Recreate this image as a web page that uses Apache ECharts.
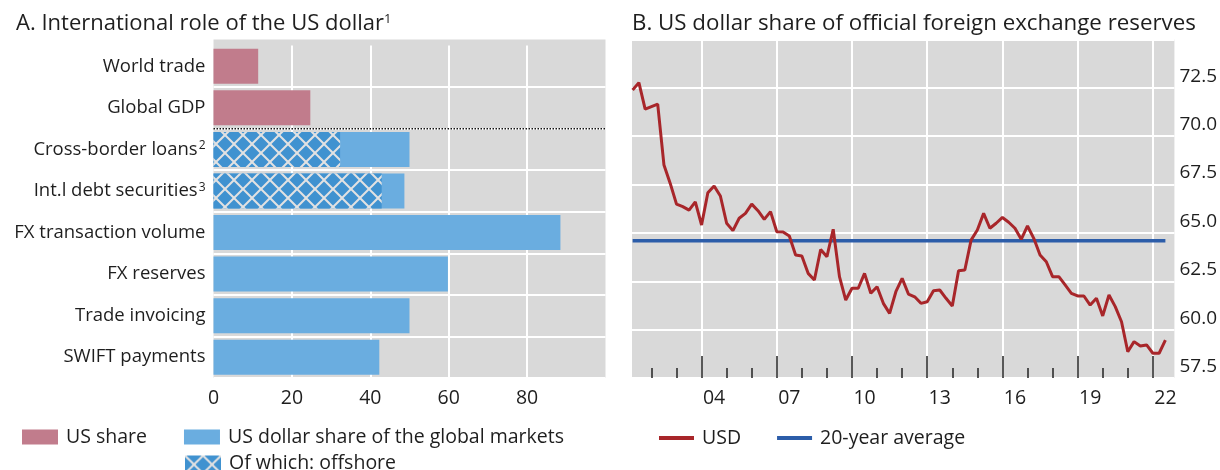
<!DOCTYPE html>
<html>
<head>
<meta charset="utf-8">
<script src="https://cdn.jsdelivr.net/npm/echarts@6.0.0/dist/echarts.min.js"></script>
<style>
  html, body { margin: 0; padding: 0; background: #fff; }
  #chart { width: 1220px; height: 470px; }
</style>
</head>
<body>
<div id="chart"></div>
<script>
// Panel A: international role of the US dollar, in per cent
const categories = ['World trade', 'Global GDP', 'Cross-border loans', 'Int.l debt securities',
  'FX transaction volume', 'FX reserves', 'Trade invoicing', 'SWIFT payments'];
const categoryNotes = { 'Cross-border loans': '2', 'Int.l debt securities': '3' };
const usShare = [11.4, 24.7, null, null, null, null, null, null];
const usdMarketShare = [null, null, 50.0, 48.7, 88.5, 59.8, 50.0, 42.3];
const offshoreShare = [null, null, 32.3, 42.9, null, null, null, null];

// Panel B: USD share of official FX reserves, quarterly from 2001 Q1 (plotted at quarter end)
const reserveStart = 2001.25;
const usdReserveShare = [
  72.39, 72.77, 71.40, 71.53, 71.66, 68.51, 67.56, 66.49, 66.36, 66.18,
  66.61, 65.41, 67.08, 67.43, 66.91, 65.50, 65.12, 65.76, 66.01, 66.49,
  66.15, 65.70, 66.10, 65.06, 65.05, 64.84, 63.86, 63.81, 62.91, 62.57,
  64.14, 63.77, 65.19, 62.74, 61.53, 62.14, 62.14, 62.91, 61.88, 62.22,
  61.36, 60.84, 61.96, 62.65, 61.84, 61.70, 61.36, 61.44, 62.01, 62.05,
  61.62, 61.22, 63.05, 63.08, 64.63, 65.15, 66.01, 65.24, 65.50, 65.80,
  65.55, 65.24, 64.67, 65.36, 64.72, 63.86, 63.51, 62.74, 62.74, 62.31,
  61.88, 61.74, 61.74, 61.27, 61.62, 60.71, 61.79, 61.19, 60.41, 58.86,
  59.38, 59.15, 59.21, 58.78, 58.78, 59.46
];
const twentyYearAverage = 64.6;
const majorTickYears = [2004, 2007, 2010, 2013, 2016, 2019, 2022];
const minorTickYears = [2002, 2003, 2005, 2006, 2008, 2009, 2011, 2012, 2014, 2015,
  2017, 2018, 2020, 2021];

const FONT = 'Open Sans';
const TEXT = '#1e1e1e';
const GREY = '#D9D9D9';

// cross-hatch fill used for the "offshore" part of the bars
function makeHatch() {
  const size = 18;
  const c = document.createElement('canvas');
  c.width = size;
  c.height = size;
  const ctx = c.getContext('2d');
  ctx.fillStyle = '#4092D0';
  ctx.fillRect(0, 0, size, size);
  ctx.strokeStyle = '#E2E2E2';
  ctx.lineWidth = 2;
  for (const k of [-size, 0, size]) {
    ctx.beginPath(); ctx.moveTo(k, 0); ctx.lineTo(k + size, size); ctx.stroke();
    ctx.beginPath(); ctx.moveTo(k + size, 0); ctx.lineTo(k, size); ctx.stroke();
  }
  return c;
}
const hatch = { image: makeHatch(), repeat: 'repeat' };

const yearOf = (i) => reserveStart + i * 0.25;
const usdLine = usdReserveShare.map((v, i) => [yearOf(i), v]);
const avgLine = [[yearOf(0), twentyYearAverage], [yearOf(usdReserveShare.length - 1), twentyYearAverage]];

const chart = echarts.init(document.getElementById('chart'), null, { renderer: 'canvas' });

const legendText = { fontFamily: FONT, fontSize: 19.5, color: TEXT, padding: [0, 0, 0, 3] };

chart.setOption({
  animation: false,
  textStyle: { fontFamily: FONT, color: TEXT },
  title: [
    {
      text: 'A. International role of the US dollar{sup|1}',
      left: 11, top: 8,
      textStyle: {
        fontFamily: FONT, fontSize: 22, fontWeight: 'normal', color: TEXT,
        rich: { sup: { fontFamily: FONT, fontSize: 13, color: TEXT, verticalAlign: 'top' } }
      }
    },
    {
      text: 'B. US dollar share of official foreign exchange reserves',
      left: 627, top: 8,
      textStyle: { fontFamily: FONT, fontSize: 22.3, fontWeight: 'normal', color: TEXT }
    }
  ],
  legend: [
    {
      left: 17, top: 422, itemWidth: 36, itemHeight: 15, itemGap: 37, icon: 'rect',
      textStyle: legendText,
      data: ['US share', 'US dollar share of the global markets'],
      selectedMode: false
    },
    {
      left: 180, top: 448, itemWidth: 36, itemHeight: 15, icon: 'rect',
      textStyle: legendText,
      data: ['Of which: offshore'],
      selectedMode: false
    },
    {
      left: 654, top: 423, itemWidth: 35, itemHeight: 4, itemGap: 36, icon: 'rect',
      textStyle: legendText,
      data: ['USD', '20-year average'],
      selectedMode: false
    }
  ],
  grid: [
    // panel A grey backdrop (slightly taller than the category band)
    { left: 213.5, top: 39.5, width: 392, height: 338.5, show: true, backgroundColor: GREY, borderWidth: 0 },
    { left: 213.5, top: 45.5, width: 392, height: 332.5 },
    { left: 632, top: 39.5, width: 548, height: 338.5, show: true, backgroundColor: GREY, borderWidth: 0 }
  ],
  xAxis: [
    {
      gridIndex: 1, type: 'value', min: 0, max: 100, interval: 20,
      axisLine: { show: false }, axisTick: { show: false },
      axisLabel: { fontFamily: FONT, fontSize: 19.5, color: TEXT, margin: 10, showMaxLabel: false },
      splitLine: { show: true, showMinLine: false, showMaxLine: false, lineStyle: { color: '#fff', width: 2 } }
    },
    {
      gridIndex: 2, type: 'value', position: 'bottom', min: 2001.225, max: 2022.86,
      axisLine: { show: false },
      axisTick: { show: true, inside: true, length: 22, customValues: majorTickYears,
        lineStyle: { color: '#222', width: 1.5 } },
      axisLabel: { fontFamily: FONT, fontSize: 19.5, color: TEXT, margin: 10,
        customValues: majorTickYears.map((y) => y + 0.5),
        formatter: (v) => String(Math.floor(v)).slice(2) },
      splitLine: { show: true, lineStyle: { color: '#fff', width: 2 } }
    },
    {
      gridIndex: 2, type: 'value', position: 'bottom', offset: 0, min: 2001.225, max: 2022.86,
      axisLine: { show: false },
      axisTick: { show: true, inside: true, length: 10, customValues: minorTickYears,
        lineStyle: { color: '#222', width: 1.5 } },
      axisLabel: { show: false },
      splitLine: { show: false }
    }
  ],
  yAxis: [
    {
      gridIndex: 1, type: 'category', data: categories, inverse: true,
      axisLine: { show: false }, axisTick: { show: false },
      axisLabel: {
        margin: 8, fontFamily: FONT, fontSize: 18.5, color: TEXT,
        formatter: (v) => categoryNotes[v] ? `{t|${v}}{sup|${categoryNotes[v]}}` : `{t|${v}}`,
        rich: {
          t: { fontFamily: FONT, fontSize: 18.5, color: TEXT },
          sup: { fontFamily: FONT, fontSize: 12, color: TEXT, verticalAlign: 'top', padding: [0, 0, 0, 1] }
        }
      },
      splitLine: { show: true, interval: (i) => i !== 0, lineStyle: { color: '#fff', width: 2 } }
    },
    {
      gridIndex: 1, type: 'value', min: -0.5, max: categories.length - 0.5, inverse: true, show: false
    },
    {
      gridIndex: 2, type: 'value', position: 'right', min: 57.5, max: 75, interval: 2.5,
      axisLine: { show: false }, axisTick: { show: false },
      axisLabel: { fontFamily: FONT, fontSize: 19, color: TEXT, align: 'left', verticalAlign: 'bottom',
        margin: 5, padding: [0, 0, 2, 0], showMaxLabel: false, formatter: (v) => v.toFixed(1) },
      splitLine: { show: true, lineStyle: { color: '#fff', width: 2 } }
    }
  ],
  series: [
    {
      name: 'US share', type: 'bar', xAxisIndex: 0, yAxisIndex: 0, data: usShare,
      barWidth: 35, barGap: '-100%', itemStyle: { color: '#C17C8C' }
    },
    {
      name: 'US dollar share of the global markets', type: 'bar', xAxisIndex: 0, yAxisIndex: 0,
      data: usdMarketShare, barWidth: 35, barGap: '-100%', itemStyle: { color: '#6AADE0' }
    },
    {
      name: 'Of which: offshore', type: 'bar', xAxisIndex: 0, yAxisIndex: 0,
      data: offshoreShare, barWidth: 35, barGap: '-100%', itemStyle: { color: hatch }
    },
    {
      // dotted separator between the US share rows and the market-share rows
      name: 'separator', type: 'line', xAxisIndex: 0, yAxisIndex: 1, silent: true,
      data: [[0, 1.5], [100, 1.5]], symbol: 'none',
      lineStyle: { color: '#111', width: 1.5, type: 'dotted' }
    },
    {
      name: 'USD', type: 'line', xAxisIndex: 1, yAxisIndex: 2, data: usdLine,
      symbol: 'none', color: '#A8262A', lineStyle: { color: '#A8262A', width: 3 }, z: 4
    },
    {
      name: '20-year average', type: 'line', xAxisIndex: 1, yAxisIndex: 2, data: avgLine,
      symbol: 'none', color: '#2C5DA9', lineStyle: { color: '#2C5DA9', width: 3.5 }, z: 3
    }
  ]
});
</script>
</body>
</html>
